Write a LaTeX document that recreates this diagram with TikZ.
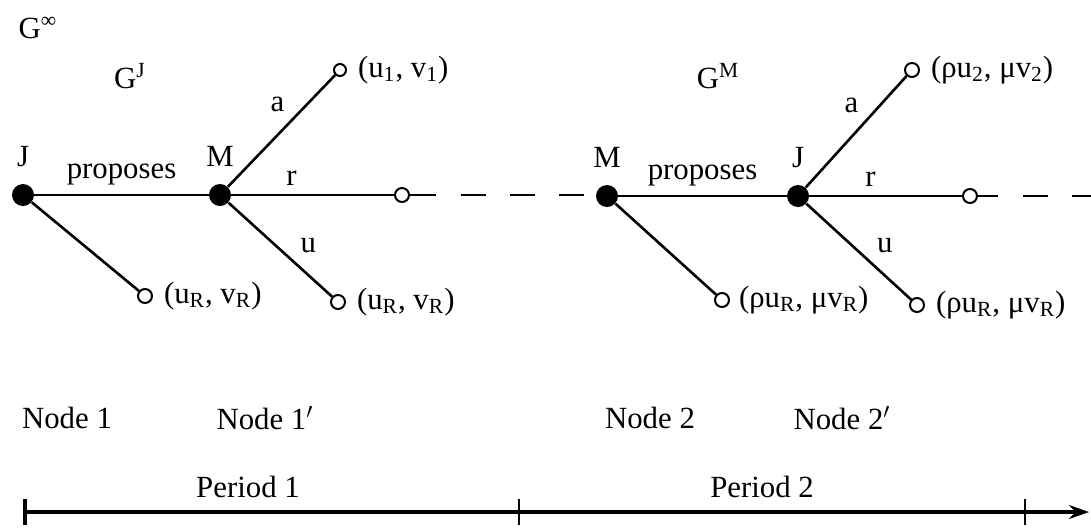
\documentclass[tikz,border=0pt]{standalone}
\usepackage{fontspec}
\setmainfont{Liberation Serif}
\usetikzlibrary{arrows.meta}

\begin{document}
\begin{tikzpicture}[x=0.5pt,y=-0.5pt,
    font=\fontsize{15.4}{18}\selectfont,
    bigdot/.style={circle,fill=black,inner sep=0pt,minimum size=11pt},
    enddot/.style={circle,draw=black,fill=white,line width=1pt,inner sep=0pt,minimum size=7pt},
    branch/.style={line width=1.3pt},
    dashline/.style={line width=1.3pt,dash pattern=on 12.5pt off 12pt}
    ]
\useasboundingbox (0,0) rectangle (1091,527);

% game labels
\node (ginf) at (38,28) {G\textsuperscript{∞}};
\node (gj) at (130,76) {G\textsuperscript{J}};
\node (gm) at (718,76) {G\textsuperscript{M}};

% period 1
\node[bigdot, label={[label distance=5pt]above:J}] (n1) at (23,195) {};
\node[bigdot, label={[label distance=5pt]above:M}] (m1) at (220,195) {};
\node[enddot, minimum size=6pt, label={[label distance=2pt]right:{(u\textsubscript{1}, v\textsubscript{1})}}] (a1) at (340,70) {};
\node[enddot] (r1) at (402,195) {};
\node[enddot, label={[label distance=2pt]right:{(u\textsubscript{R}, v\textsubscript{R})}}] (u1) at (338,302) {};
\node[enddot, label={[label distance=2pt]right:{(u\textsubscript{R}, v\textsubscript{R})}}] (q1) at (145,296) {};
\coordinate (r1e) at (436,195);
\coordinate (d1) at (461,195);
\coordinate (d1e) at (584,195);

\draw[branch] (n1) -- node[above=1pt] {proposes} (m1);
\draw[branch] (n1) -- (q1);
\draw[branch] (m1) -- node[pos=0.6, above left=0pt] {a} (a1);
\draw[branch] (m1) -- node[pos=0.37, above=1pt] {r} (r1);
\draw[branch] (m1) -- node[pos=0.62, above right=0pt] {u} (u1);
\draw[branch] (r1) -- (r1e);
\draw[dashline] (d1) -- (d1e);

% period 2
\node[bigdot, label={[label distance=5pt]above:M}] (n2) at (607,196) {};
\node[bigdot, label={[label distance=5pt]above:J}] (m2) at (798,196) {};
\node[enddot, label={[label distance=2pt]right:{(ρu\textsubscript{2}, μv\textsubscript{2})}}] (a2) at (912,70) {};
\node[enddot] (r2) at (970,196) {};
\node[enddot, label={[label distance=2pt]right:{(ρu\textsubscript{R}, μv\textsubscript{R})}}] (u2) at (917,305) {};
\node[enddot, label={[label distance=1pt]right:{(ρu\textsubscript{R}, μv\textsubscript{R})}}] (q2) at (722,300) {};
\coordinate (r2e) at (998,196);
\coordinate (d2) at (1023,196);
\coordinate (d2e) at (1091,196);

\draw[branch] (n2) -- node[above=1pt] {proposes} (m2);
\draw[branch] (n2) -- (q2);
\draw[branch] (m2) -- node[pos=0.6, above left=0pt] {a} (a2);
\draw[branch] (m2) -- node[pos=0.4, above=1pt] {r} (r2);
\draw[branch] (m2) -- node[pos=0.6, above right=0pt] {u} (u2);
\draw[branch] (r2) -- (r2e);
\draw[dashline] (d2) -- (d2e);

% nodes and time axis
\node (nd1) at (67,418) {Node 1};
\node (nd1p) at (265,418) {Node 1$'$};
\node (nd2) at (650,418) {Node 2};
\node (nd2p) at (842,418) {Node 2$'$};
\node (p1) at (248,487) {Period 1};
\node (p2) at (762,487) {Period 2};

\coordinate (t0) at (25,512);
\coordinate (t1) at (519,512);
\coordinate (t2) at (1025,512);
\coordinate (tip) at (1089,512);
\draw[line width=2pt, -{Stealth[length=10pt,width=7pt]}] (t0) -- (tip);
\draw[line width=1.6pt] ([yshift=6.5pt]t0) -- ([yshift=-6.5pt]t0);
\foreach \t in {t1,t2}
  \draw[line width=0.8pt] ([yshift=6.5pt]\t) -- ([yshift=-6.5pt]\t);
\end{tikzpicture}
\end{document}
